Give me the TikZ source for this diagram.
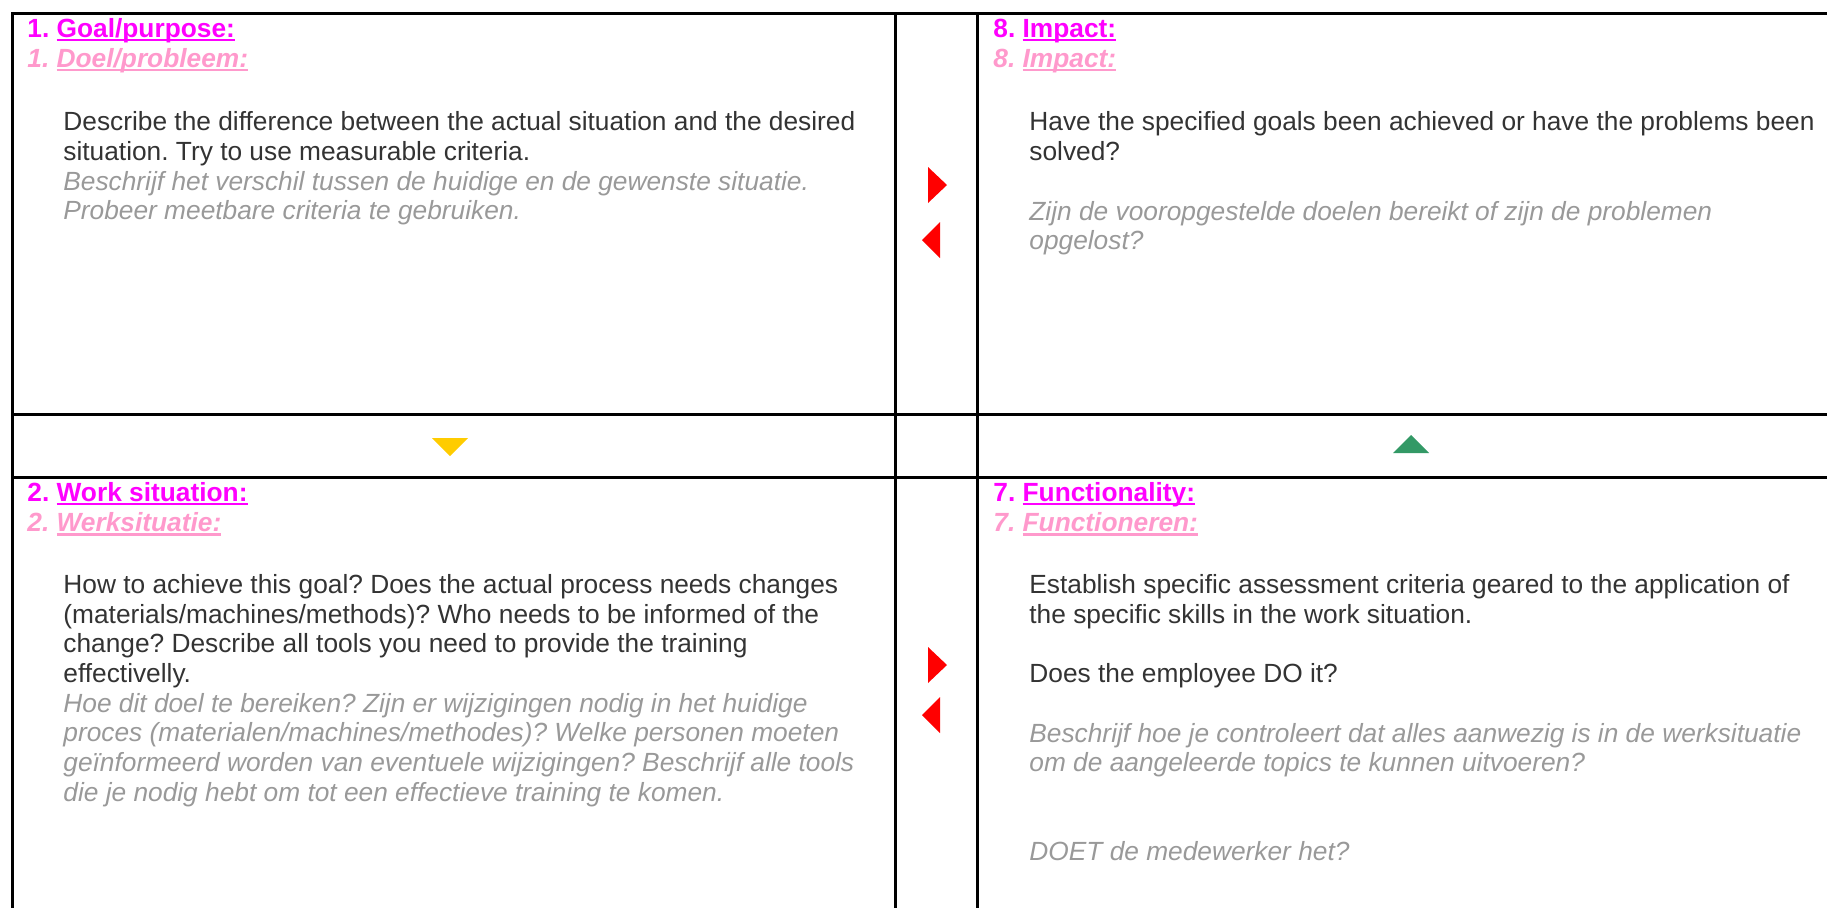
\documentclass[tikz,border=0pt]{standalone}
\usepackage{fontspec}
\setmainfont{Liberation Sans}
\usepackage{xcolor}
\frenchspacing

\definecolor{headmag}{HTML}{FF00FF}
\definecolor{headpink}{HTML}{FF99CC}
\definecolor{bodydark}{HTML}{333333}
\definecolor{bodygrey}{HTML}{999999}
\definecolor{markred}{HTML}{FF0000}
\definecolor{markyellow}{HTML}{FFCC00}
\definecolor{markgreen}{HTML}{339966}

% underline that cuts through descenders, as a word processor draws it
\newcommand{\ulword}[1]{\setbox0\hbox{#1}\rlap{\rule[-0.15em]{\wd0}{0.085em}}\box0}
% stack of left-aligned lines; the box baseline is the first line's baseline
\newcommand{\textlines}[1]{\vtop{\halign{##\hfil\cr#1\crcr}}}

\tikzset{
  gridline/.style={line width=1.5pt, black, line cap=rect},
  basefont/.style={anchor=base west, inner sep=0pt,
    font=\fontsize{13.15pt}{14.85pt}\selectfont},
  headen/.style={basefont, font=\fontsize{13.15pt}{14.85pt}\selectfont\bfseries, text=headmag},
  headnl/.style={basefont, font=\fontsize{13.15pt}{14.85pt}\selectfont\bfseries\itshape, text=headpink},
  bodyen/.style={basefont, text=bodydark},
  bodynl/.style={basefont, font=\fontsize{13.15pt}{14.85pt}\selectfont\itshape, text=bodygrey},
}

\begin{document}
\begin{tikzpicture}[x=0.5pt, y=-0.5pt]
  \useasboundingbox (0,0) rectangle (1827,907);

  % table rules
  \draw[gridline] (12,13) -- (1827,13);
  \draw[gridline] (12,414) -- (1827,414);
  \draw[gridline] (12,477) -- (1827,477);
  \draw[gridline] (12,13) -- (12,910);
  \draw[gridline] (895,13) -- (895,910);
  \draw[gridline] (977,13) -- (977,910);

  % cell 1: goal
  \node[headen] (h1en) at (27,37) {1. \ulword{Goal/purpose:}};
  \node[headnl] (h1nl) at (27,67) {1. \ulword{Doel/probleem:}};
  \node[bodyen] (b1en) at (63,130.7) {\textlines{%
    Describe the difference between the actual situation and the desired\cr
    situation. Try to use measurable criteria.}};
  \node[bodynl] (b1nl) at (63,190.1) {\textlines{%
    Beschrijf het verschil tussen de huidige en de gewenste situatie.\cr
    Probeer meetbare criteria te gebruiken.}};

  % cell 8: impact
  \node[headen] (h8en) at (993,37) {8. \ulword{Impact:}};
  \node[headnl] (h8nl) at (993,67) {8. \ulword{Impact:}};
  \node[bodyen] (b8en) at (1029,130.7) {\textlines{%
    Have the specified goals been achieved or have the problems been\cr
    solved?}};
  \node[bodynl] (b8nl) at (1029,220) {\textlines{%
    Zijn de vooropgestelde doelen bereikt of zijn de problemen\cr
    opgelost?}};

  % cell 2: work situation
  \node[headen] (h2en) at (27,501) {2. \ulword{Work situation:}};
  \node[headnl] (h2nl) at (27,531.7) {2. \ulword{Werksituatie:}};
  \node[bodyen] (b2en) at (63,593.3) {\textlines{%
    How to achieve this goal? Does the actual process needs changes\cr
    (materials/machines/methods)? Who needs to be informed of the\cr
    change? Describe all tools you need to provide the training\cr
    effectivelly.}};
  \node[bodynl] (b2nl) at (63,712.1) {\textlines{%
    Hoe dit doel te bereiken? Zijn er wijzigingen nodig in het huidige\cr
    proces (materialen/machines/methodes)? Welke personen moeten\cr
    geïnformeerd worden van eventuele wijzigingen? Beschrijf alle tools\cr
    die je nodig hebt om tot een effectieve training te komen.}};

  % cell 7: functionality
  \node[headen] (h7en) at (993,501) {7. \ulword{Functionality:}};
  \node[headnl] (h7nl) at (993,531.7) {7. \ulword{Functioneren:}};
  \node[bodyen] (b7en) at (1029,593.3) {\textlines{%
    Establish specific assessment criteria geared to the application of\cr
    the specific skills in the work situation.}};
  \node[bodyen] (b7do) at (1029,682.4) {Does the employee DO it?};
  \node[bodynl] (b7nl) at (1029,742) {\textlines{%
    Beschrijf hoe je controleert dat alles aanwezig is in de werksituatie\cr
    om de aangeleerde topics te kunnen uitvoeren?}};
  \node[bodynl] (b7doet) at (1029,860) {DOET de medewerker het?};

  % flow markers
  \fill[markred] (928,167) -- (947,185) -- (928,203) -- cycle;
  \fill[markred] (940,222) -- (922,240) -- (940,258) -- cycle;
  \fill[markred] (928,647) -- (947,665) -- (928,683) -- cycle;
  \fill[markred] (940,697) -- (922,715) -- (940,733) -- cycle;
  \fill[markyellow] (432,438) -- (468,438) -- (450,456) -- cycle;
  \fill[markgreen] (1393,453) -- (1429,453) -- (1411,435) -- cycle;
\end{tikzpicture}
\end{document}
